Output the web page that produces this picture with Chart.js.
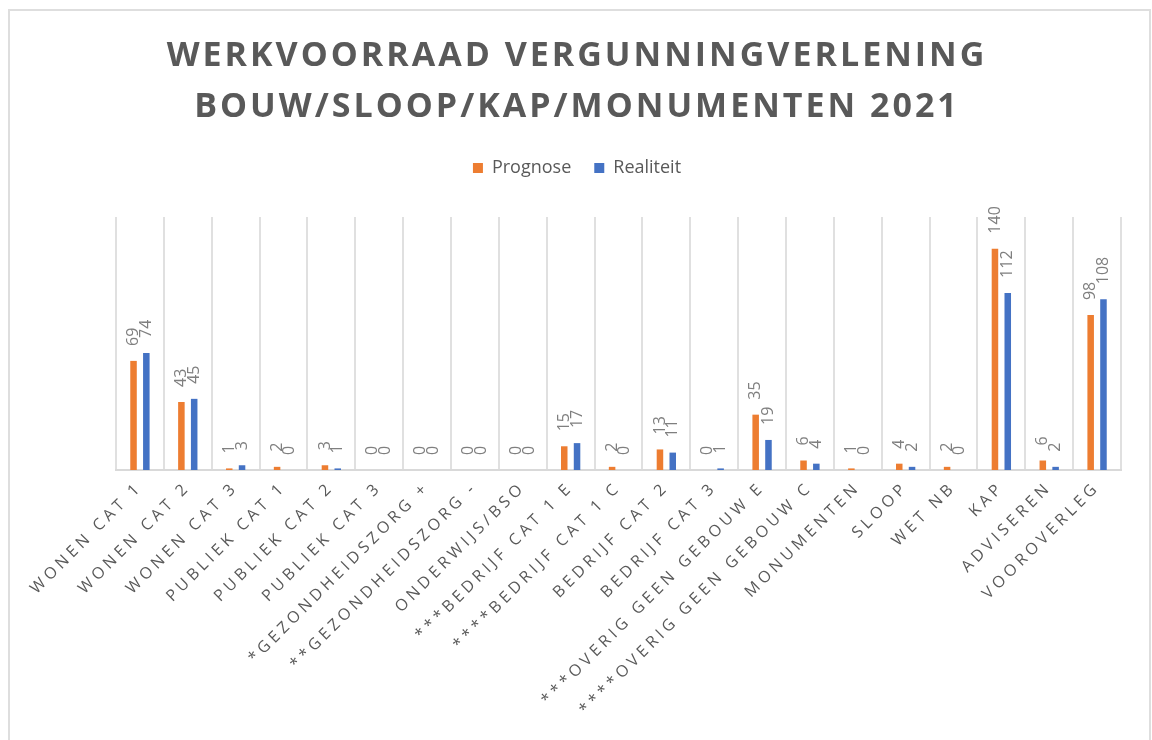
<!DOCTYPE html>
<html><head><meta charset="utf-8">
<script src="https://cdn.jsdelivr.net/npm/chart.js@4/dist/chart.umd.min.js"></script>
<style>
html,body{margin:0;padding:0;background:#fff;}
#wrap{position:relative;width:1152px;height:740px;overflow:hidden;}
#frame{position:absolute;left:8px;top:9px;width:1143px;height:760px;border:2px solid #dedede;box-sizing:border-box;}
canvas{position:absolute;left:0;top:0;}
</style></head><body>
<div id="wrap"><div id="frame"></div><canvas id="c" width="1152" height="740"></canvas></div>
<script>
const titleLines = ['WERKVOORRAAD VERGUNNINGVERLENING', 'BOUW/SLOOP/KAP/MONUMENTEN 2021'];
const categories = [
  'WONEN CAT 1', 'WONEN CAT 2', 'WONEN CAT 3',
  'PUBLIEK CAT 1', 'PUBLIEK CAT 2', 'PUBLIEK CAT 3',
  '*GEZONDHEIDSZORG +', '**GEZONDHEIDSZORG -', 'ONDERWIJS/BSO',
  '***BEDRIJF CAT 1 E', '****BEDRIJF CAT 1 C', 'BEDRIJF CAT 2', 'BEDRIJF CAT 3',
  '***OVERIG GEEN GEBOUW E', '****OVERIG GEEN GEBOUW C',
  'MONUMENTEN', 'SLOOP', 'WET NB', 'KAP', 'ADVISEREN', 'VOOROVERLEG'
];
const seriesNames = ['Prognose', 'Realiteit'];
const prognose  = [69, 43, 1, 2, 3, 0, 0, 0, 0, 15, 2, 13, 0, 35, 6, 1, 4, 2, 140, 6, 98];
const realiteit = [74, 45, 3, 0, 1, 0, 0, 0, 0, 17, 0, 11, 1, 19, 4, 0, 2, 0, 112, 2, 108];
const yMin = 0;
const yMax = 160;

const ORANGE = '#ED7D31';
const BLUE = '#4472C4';
const TEXT = '#595959';
const LEGEND_EXTRA = 30;

function withSpacing(obj, method, spacing) {
  if (!obj || obj['__sp_' + method]) return;
  const orig = obj[method];
  obj[method] = function (...args) {
    const ctx = this.ctx;
    ctx.save();
    ctx.letterSpacing = spacing;
    const r = orig.apply(this, args);
    ctx.restore();
    return r;
  };
  obj['__sp_' + method] = true;
}

const helperPlugin = {
  id: 'helper',
  beforeLayout(chart) {
    const lg = chart.legend;
    if (lg && !lg.__fitPatched) {
      const f = lg.fit;
      lg.fit = function () { f.call(this); if (this.options.display) this.height += LEGEND_EXTRA; };
      lg.__fitPatched = true;
    }
    withSpacing(chart.titleBlock, 'draw', '3px');
  },
  beforeDraw(chart) {
    withSpacing(chart.scales.x, 'drawLabels', '4px');
  },
  afterDatasetsDraw(chart) {
    const ctx = chart.ctx;
    ctx.save();
    ctx.font = '16px "Open Sans"';
    ctx.fillStyle = '#7f7f7f';
    chart.data.datasets.forEach((ds, i) => {
      const meta = chart.getDatasetMeta(i);
      meta.data.forEach((bar, j) => {
        ctx.save();
        ctx.translate(bar.x, bar.y - 15);
        ctx.rotate(-Math.PI / 2);
        ctx.textAlign = 'left';
        ctx.textBaseline = 'middle';
        ctx.fillText(String(ds.data[j]), 0, 0);
        ctx.restore();
      });
    });
    ctx.restore();
  }
};

new Chart(document.getElementById('c'), {
  type: 'bar',
  data: {
    labels: categories,
    datasets: [
      { label: seriesNames[0], data: prognose, backgroundColor: ORANGE, borderWidth: 0, categoryPercentage: 0.535, barPercentage: 0.51 },
      { label: seriesNames[1], data: realiteit, backgroundColor: BLUE, borderWidth: 0, categoryPercentage: 0.535, barPercentage: 0.51 }
    ]
  },
  options: {
    responsive: false,
    animation: false,
    devicePixelRatio: 1,
    layout: { padding: { left: 10, right: 8, top: 8, bottom: 0 } },
    plugins: {
      title: {
        display: true,
        text: titleLines,
        color: TEXT,
        font: { family: '"Open Sans"', size: 34, weight: 'bold', lineHeight: 1.5 },
        padding: { top: 23, bottom: 3 }
      },
      legend: {
        display: true,
        position: 'top',
        labels: {
          color: TEXT,
          font: { family: '"Open Sans"', size: 18 },
          boxWidth: 10,
          boxHeight: 10,
          padding: 23
        }
      },
      tooltip: { enabled: false }
    },
    scales: {
      x: {
        grid: { offset: true, color: '#e0e0e0', lineWidth: 2, drawTicks: false },
        border: { color: '#d9d9d9', width: 2 },
        ticks: {
          autoSkip: false,
          minRotation: 45,
          maxRotation: 45,
          padding: 8,
          color: TEXT,
          font: { family: '"Open Sans"', size: 16 }
        },
        afterFit(scale) { scale.height = 270; }
      },
      y: {
        display: true,
        position: 'left',
        min: yMin,
        max: yMax,
        grid: { display: false },
        border: { display: false },
        ticks: { display: false },
        afterFit(scale) { scale.width = 106; }
      },
      yRight: {
        display: true,
        position: 'right',
        min: yMin,
        max: yMax,
        grid: { display: false },
        border: { display: false },
        ticks: { display: false },
        afterFit(scale) { scale.width = 23; }
      }
    }
  },
  plugins: [helperPlugin]
});
</script>
</body></html>
